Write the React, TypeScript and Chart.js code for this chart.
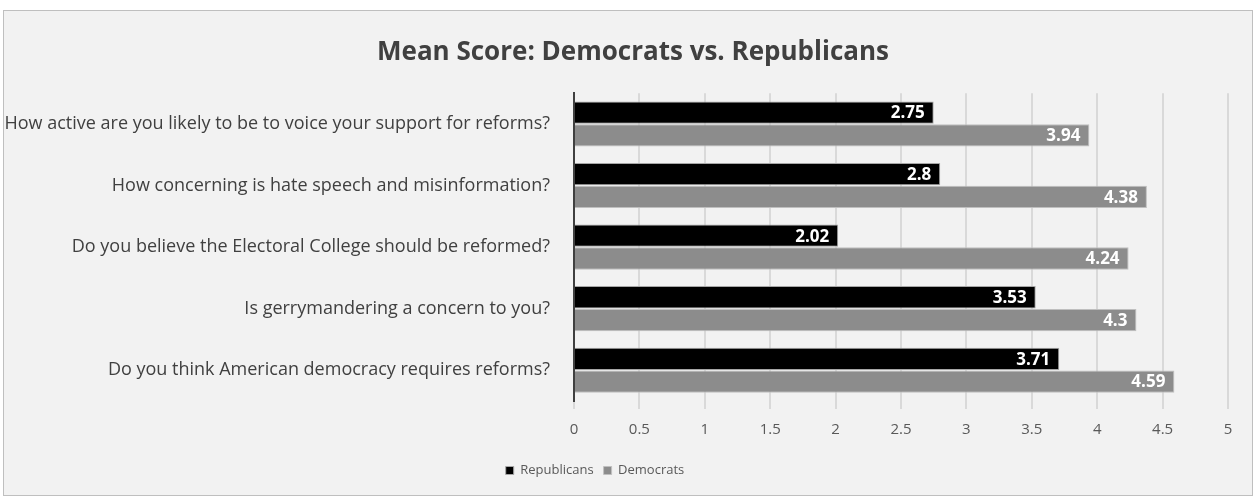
import React, { useEffect, useRef } from "react";
import { Chart, registerables } from "chart.js";

Chart.register(...registerables);

const categories = [
  "How active are you likely to be to voice your support for reforms?",
  "How concerning is hate speech and misinformation?",
  "Do you believe the Electoral College should be reformed?",
  "Is gerrymandering a concern to you?",
  "Do you think American democracy requires reforms?",
];
const republicans = [2.75, 2.8, 2.02, 3.53, 3.71];
const democrats = [3.94, 4.38, 4.24, 4.3, 4.59];
const xTicks = [0, 0.5, 1, 1.5, 2, 2.5, 3, 3.5, 4, 4.5, 5];

const FONT = "'Open Sans', 'DejaVu Sans', sans-serif";

const valueLabels = {
  id: "valueLabels",
  afterDatasetsDraw(chart: any) {
    const ctx = chart.ctx;
    ctx.save();
    ctx.font = `bold 17px ${FONT}`;
    ctx.fillStyle = "#ffffff";
    ctx.textAlign = "right";
    ctx.textBaseline = "middle";
    chart.data.datasets.forEach((ds: any, i: number) => {
      const meta = chart.getDatasetMeta(i);
      meta.data.forEach((bar: any, j: number) => {
        ctx.fillText(String(ds.data[j]), bar.x - 9, bar.y + 1);
      });
    });
    ctx.restore();
  },
};

const shiftBlocks = {
  id: "shiftBlocks",
  afterLayout(chart: any) {
    if (chart.titleBlock) chart.titleBlock.left += 34;
    if (chart.legend) chart.legend.right -= 42;
  },
};

export default function App() {
  const ref = useRef<HTMLCanvasElement | null>(null);
  useEffect(() => {
    if (!ref.current) return;
    const chart = new Chart(ref.current, {
      type: "bar",
      data: {
        labels: categories,
        datasets: [
          {
            label: "Republicans",
            data: republicans,
            backgroundColor: "#000000",
            borderColor: "#a6a6a6",
            borderWidth: 1,
            barPercentage: 0.98,
            categoryPercentage: 0.74,
          },
          {
            label: "Democrats",
            data: democrats,
            backgroundColor: "#8c8c8c",
            borderColor: "#bfbfbf",
            borderWidth: 1,
            barPercentage: 0.98,
            categoryPercentage: 0.74,
          },
        ],
      },
      plugins: [valueLabels, shiftBlocks],
      options: {
        indexAxis: "y",
        animation: false,
        responsive: false,
        maintainAspectRatio: false,
        layout: { padding: { left: 0, right: 24, top: 0, bottom: 8 } },
        plugins: {
          title: {
            display: true,
            text: "Mean Score: Democrats vs. Republicans",
            color: "#404040",
            font: { family: FONT, size: 26, weight: "bold" },
            padding: { top: 26, bottom: 25 },
          },
          legend: {
            position: "bottom",
            labels: {
              color: "#595959",
              font: { family: FONT, size: 13 },
              usePointStyle: true,
              pointStyle: "rect",
              boxWidth: 8,
              boxHeight: 8,
              padding: 10,
            },
          },
          tooltip: { enabled: false },
        },
        scales: {
          x: {
            min: 0,
            max: 5,
            afterBuildTicks(scale: any) {
              scale.ticks = xTicks.map((v) => ({ value: v }));
            },
            afterFit(scale: any) {
              scale.height = 53;
            },
            grid: {
              color: "#d9d9d9",
              lineWidth: 2,
              drawTicks: true,
              tickLength: 8,
              tickColor: "#d9d9d9",
            },
            border: { display: false },
            ticks: {
              color: "#595959",
              font: { family: FONT, size: 15 },
              padding: 12,
              callback: (v: any) => String(v),
            },
          },
          y: {
            afterFit(scale: any) {
              scale.width = 570;
            },
            grid: { display: false },
            border: { display: true, color: "#404040", width: 2 },
            ticks: {
              color: "#404040",
              font: { family: FONT, size: 18 },
              padding: 16,
            },
          },
        },
      },
    });
    return () => chart.destroy();
  }, []);

  return (
    <div
      style={{
        position: "fixed",
        left: 0,
        top: 0,
        width: 1255,
        height: 497,
        background: "#ffffff",
      }}
    >
      <div
        style={{
          position: "absolute",
          left: 3,
          top: 10,
          width: 1248,
          height: 484,
          border: "1px solid #bfbfbf",
          background: "#f2f2f2",
        }}
      >
        <canvas ref={ref} width={1248} height={484} style={{ display: "block" }} />
      </div>
    </div>
  );
}
